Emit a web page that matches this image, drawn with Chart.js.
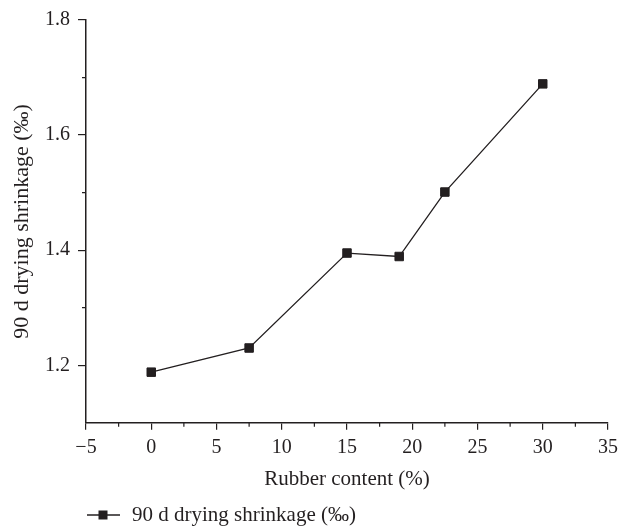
<!DOCTYPE html>
<html><head><meta charset="utf-8">
<script src="https://cdn.jsdelivr.net/npm/chart.js@4/dist/chart.umd.min.js"></script>
<style>html,body{margin:0;padding:0;background:#fff}#wrap{width:630px;height:530px;position:relative}canvas{display:block}</style>
</head><body><div id="wrap"><canvas id="c" width="630" height="530"></canvas></div>
<script>
const rubberContent = [0, 7.5, 15, 19, 22.5, 30];
const shrinkage = [1.188, 1.23, 1.395, 1.389, 1.501, 1.689];
const seriesLabel = '90 d drying shrinkage (‰)';
const xTitle = 'Rubber content (%)';
const yTitle = '90 d drying shrinkage (‰)';
const xMajorTicks = [-5, 0, 5, 10, 15, 20, 25, 30, 35];
const xMinorTicks = [-2.5, 2.5, 7.5, 12.5, 17.5, 22.5, 27.5, 32.5];
const yMajorTicks = [1.2, 1.4, 1.6, 1.8];
const yMinorTicks = [1.3, 1.5, 1.7];

const INK = '#231f20';
const FONT = "'Liberation Serif', 'DejaVu Serif', serif";

const minorTicks = {
  id: 'minorTicks',
  afterDraw(chart) {
    const ctx = chart.ctx, xs = chart.scales.x, ys = chart.scales.y;
    const a = chart.chartArea;
    ctx.save();
    ctx.strokeStyle = INK; ctx.lineWidth = 1.2;
    ctx.beginPath();
    xMinorTicks.forEach(v => { const p = xs.getPixelForValue(v); ctx.moveTo(p, a.bottom); ctx.lineTo(p, a.bottom + 4); });
    yMinorTicks.forEach(v => { const p = ys.getPixelForValue(v); ctx.moveTo(a.left, p); ctx.lineTo(a.left - 4, p); });
    ctx.stroke();
    // legend
    const ly = 515, lx = a.left;
    ctx.lineWidth = 1.3;
    ctx.beginPath(); ctx.moveTo(lx + 1, ly); ctx.lineTo(lx + 34, ly); ctx.stroke();
    ctx.fillStyle = INK;
    ctx.fillRect(lx + 17 - 4.5, ly - 4.5, 9, 9);
    ctx.font = '21px ' + FONT;
    ctx.textBaseline = 'middle'; ctx.textAlign = 'left';
    ctx.fillText(chart.data.datasets[0].label, lx + 46, ly);
    ctx.restore();
  }
};

new Chart(document.getElementById('c'), {
  type: 'line',
  data: {
    datasets: [{
      label: seriesLabel,
      data: rubberContent.map((x, i) => ({x, y: shrinkage[i]})),
      borderColor: INK, backgroundColor: INK,
      borderWidth: 1.3, tension: 0,
      pointStyle: 'rect', pointRadius: 6, pointBorderWidth: 1,
      pointHoverRadius: 6
    }]
  },
  options: {
    responsive: false, animation: false, devicePixelRatio: 1,
    layout: { padding: { top: 19, right: 22, bottom: 36, left: 0 } },
    plugins: { legend: { display: false }, tooltip: { enabled: false } },
    events: [],
    scales: {
      x: {
        type: 'linear', min: -5, max: 35,
        afterBuildTicks: s => { s.ticks = xMajorTicks.map(v => ({value: v})); },
        ticks: { color: INK, font: { family: FONT, size: 20 }, padding: 6, maxRotation: 0, autoSkip: false,
          callback: v => v < 0 ? '\u2212' + Math.abs(v) : String(v) },
        grid: { drawOnChartArea: false, drawTicks: true, tickLength: 7, color: INK, lineWidth: 1.2 },
        border: { display: true, color: INK, width: 1.5 },
        title: { display: true, text: xTitle, color: INK, font: { family: FONT, size: 21 }, padding: { top: 1, bottom: 2 } }
      },
      y: {
        type: 'linear', min: 1.1, max: 1.8,
        afterBuildTicks: s => { s.ticks = yMajorTicks.map(v => ({value: v})); },
        afterFit: s => { s.width = 86; },
        ticks: { color: INK, font: { family: FONT, size: 20 }, padding: 8, autoSkip: false,
          callback: v => v.toFixed(1) },
        grid: { drawOnChartArea: false, drawTicks: true, tickLength: 8, color: INK, lineWidth: 1.2 },
        border: { display: true, color: INK, width: 1.5 },
        title: { display: true, text: yTitle, color: INK, font: { family: FONT, size: 22 }, padding: { top: 9, bottom: 0 } }
      }
    }
  },
  plugins: [minorTicks]
});
</script></body></html>
